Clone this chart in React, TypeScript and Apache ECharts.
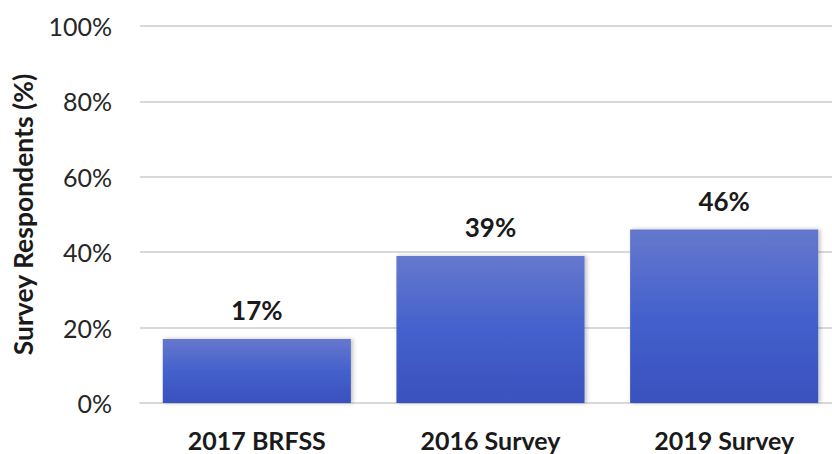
import React, { useEffect, useRef } from "react";
import * as echarts from "echarts";

const categories = ["2017 BRFSS", "2016 Survey", "2019 Survey"];
const values = [17, 39, 46];
const yTicks = [0, 20, 40, 60, 80, 100];

export default function App() {
  const ref = useRef<HTMLDivElement>(null);
  useEffect(() => {
    const chart = echarts.init(ref.current!, null, { renderer: "svg" });
    const font = "Lato, 'Open Sans', sans-serif";
    chart.setOption({
      animation: false,
      grid: { left: 140, top: 26, width: 701, height: 377, containLabel: false },
      xAxis: {
        type: "category",
        data: categories,
        axisLine: { show: true, lineStyle: { color: "#d9d9d9", width: 2 } },
        axisTick: { show: false },
        axisLabel: { fontFamily: font, fontSize: 25, fontWeight: "bold", color: "#1a1a1a", margin: 24 },
      },
      yAxis: {
        type: "value",
        min: yTicks[0],
        max: yTicks[yTicks.length - 1],
        interval: 20,
        name: "Survey Respondents (%)",
        nameLocation: "middle",
        nameGap: 104,
        nameTextStyle: { fontFamily: font, fontSize: 26.5, fontWeight: "bold", color: "#1a1a1a" },
        axisLine: { show: false },
        axisTick: { show: false },
        splitLine: { lineStyle: { color: "#d9d9d9", width: 2 } },
        axisLabel: { fontFamily: font, fontSize: 25, color: "#262626", margin: 28, formatter: "{value}%" },
      },
      series: [
        {
          type: "bar",
          data: values,
          barCategoryGap: "19.5%",
          itemStyle: {
            color: new echarts.graphic.LinearGradient(0, 0, 0, 1, [
              { offset: 0, color: "#6678cd" },
              { offset: 0.5, color: "#4461cc" },
              { offset: 1, color: "#3a51bd" },
            ]),
            shadowColor: "rgba(0,0,0,0.25)",
            shadowBlur: 4,
            shadowOffsetX: 2,
          },
          label: {
            show: true,
            position: "top",
            distance: 16,
            formatter: "{c}%",
            fontFamily: font,
            fontSize: 26,
            fontWeight: "bold",
            color: "#1a1a1a",
          },
        },
      ],
    });
    return () => chart.dispose();
  }, []);
  return (
    <div style={{ width: 832, height: 454, position: "absolute", left: 0, top: 0, overflow: "hidden" }}>
      <div ref={ref} style={{ width: 860, height: 454 }} />
    </div>
  );
}
